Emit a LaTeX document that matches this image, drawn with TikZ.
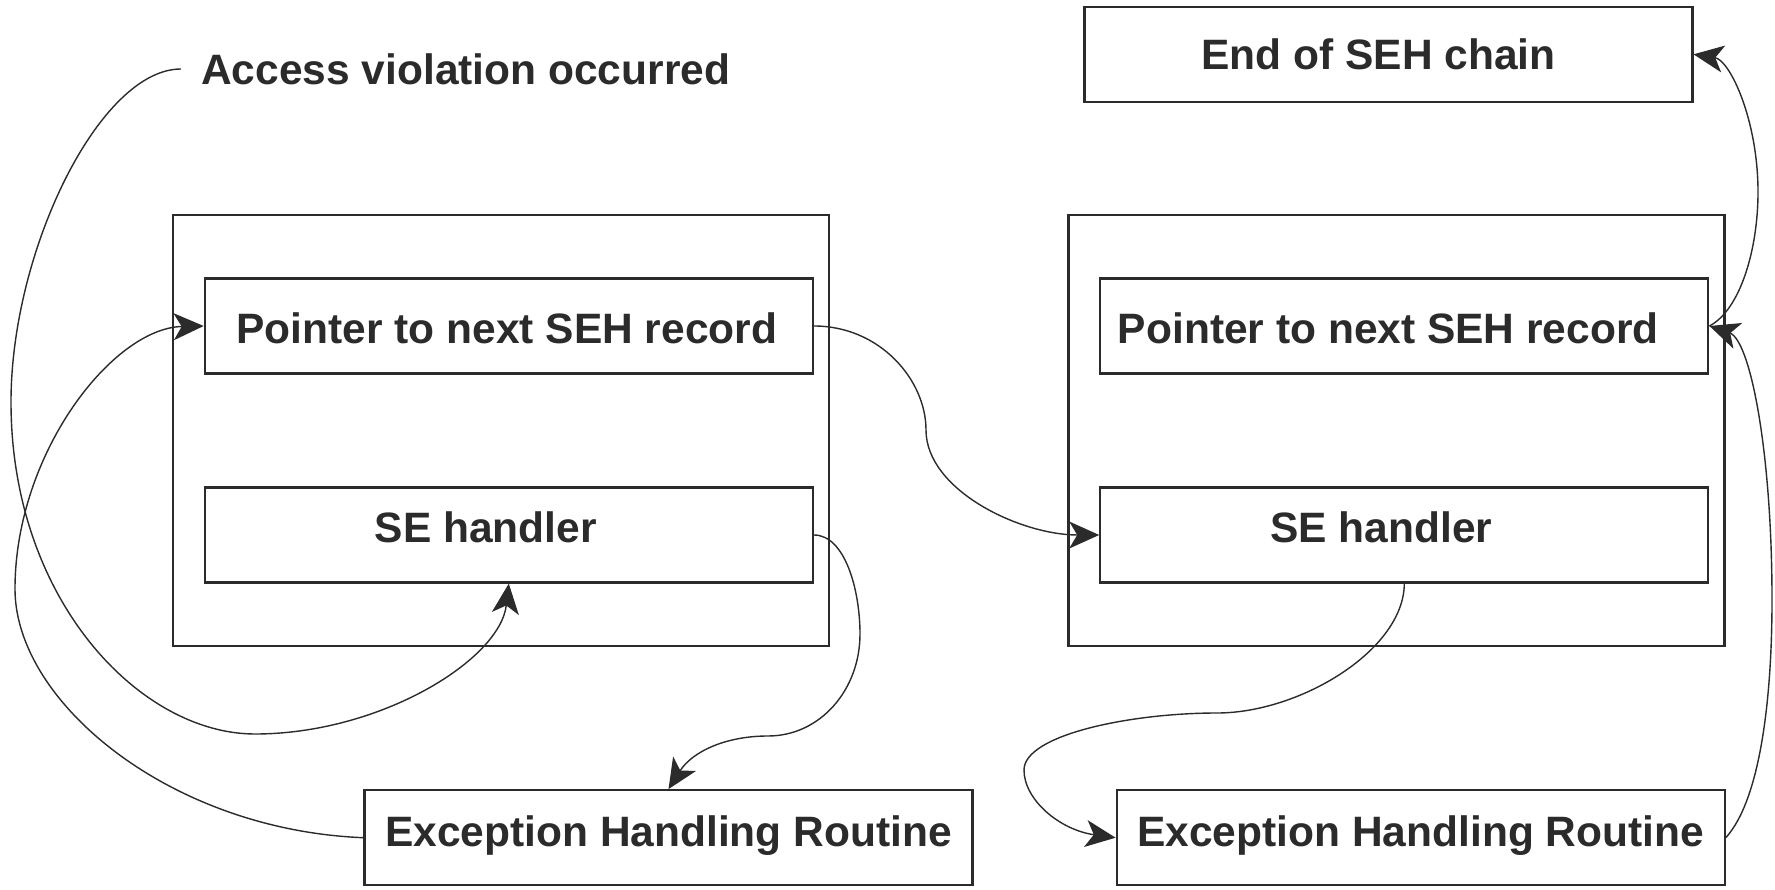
\documentclass[tikz,border=0pt]{standalone}
\usepackage{fontspec}
\setmainfont{Liberation Sans}
\usetikzlibrary{arrows.meta}
\definecolor{ink}{HTML}{2B2B2B}
\tikzset{
  box/.style={draw=ink, line width=2.2pt, minimum width=608pt, minimum height=95pt, inner sep=0pt, text=ink, font=\fontsize{42.5}{50}\selectfont\bfseries, text height=31pt, text depth=9pt},
  outer/.style={draw=ink, line width=2.2pt, minimum width=656pt, minimum height=431pt, inner sep=0pt},
  conn/.style={draw=ink, line width=1.4pt},
  tip/.style={-{Stealth[length=30pt,width=27pt,inset=8pt]}},
}
\begin{document}
\begin{tikzpicture}[x=1pt,y=-1pt]
\useasboundingbox (0,0) rectangle (1775,890);
% outer frames
\node[outer] (outerL) at (501,430.5) {};
\node[outer] (outerR) at (1396.4,430.5) {};
% boxes
\node[box,text height=45pt] (ptrL) at (508.8,326) {Pointer to next SEH record\hspace{4pt}\null};
\node[box,text depth=16pt] (seL) at (508.8,535) {SE handler\hspace{46pt}\null};
\node[box,text depth=13.5pt] (ehrL) at (668.5,837.7) {Exception Handling Routine};
\node[box,text height=45pt] (ptrR) at (1404.3,326) {Pointer to next SEH record\hspace{32pt}\null};
\node[box,text depth=16pt] (seR) at (1404.3,535) {SE handler\hspace{46pt}\null};
\node[box,text depth=13.5pt] (ehrR) at (1420.7,837.7) {Exception Handling Routine};
\node[box,text height=40pt] (endc) at (1388.4,54.3) {End of SEH chain\hspace{20pt}\null};
\node[anchor=west, inner xsep=20pt, inner ysep=0pt, text=ink, font=\fontsize{42.5}{50}\selectfont\bfseries] (av) at (181,69) {Access violation occurred};
% connectors
\draw[conn,tip] (av.west) .. controls (100,69) and (11,250) .. (11,402)
  .. controls (11,600) and (140,734) .. (255,734)
  .. controls (380,734) and (500,660) .. (seL.south);
\draw[conn,tip] (ehrL.west) .. controls (170,830) and (15,702) .. (15,589)
  .. controls (15,453) and (113,328) .. (ptrL.west);
\draw[conn,tip] (ptrL.east) .. controls (880,326) and (926,380) .. (926,430)
  .. controls (926,490) and (1020,535) .. (seR.west);
\draw[conn,tip] (seL.east) .. controls (845,535) and (860,590) .. (860,634)
  .. controls (860,690) and (820,736) .. (768,736)
  .. controls (725,736) and (692,752) .. (ehrL.north);
\draw[conn,tip] (seR.south) .. controls (1404,650) and (1300,713) .. (1217,713)
  .. controls (1130,713) and (1024,735) .. (1024,770)
  .. controls (1024,800) and (1060,830) .. (ehrR.west);
\draw[conn,tip] (ehrR.east) .. controls (1760,800) and (1772,700) .. (1772,600)
  .. controls (1772,450) and (1750,340) .. (ptrR.east);
\draw[conn,tip] (ptrR.east) .. controls (1740,310) and (1758,250) .. (1758,192)
  .. controls (1758,120) and (1730,60) .. (endc.east);
\end{tikzpicture}
\end{document}
